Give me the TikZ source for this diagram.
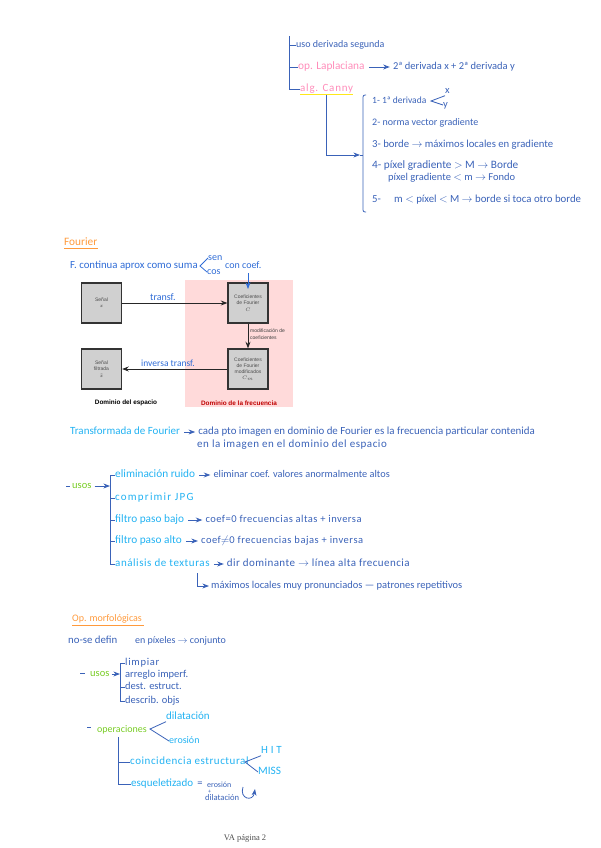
\documentclass[tikz,border=0pt]{standalone}
\usepackage{fontspec}
\setmainfont{Carlito}
\newfontfamily\boxfont{Liberation Sans}
\newfontfamily\pagefont{Liberation Serif}
\usepackage{tikz}
\usetikzlibrary{arrows.meta,positioning,calc}
\usepackage{xcolor}
\definecolor{inkblue}{HTML}{3A62B8}
\definecolor{inkroyal}{HTML}{2F6CD6}
\definecolor{inkcyan}{HTML}{22B2F2}
\definecolor{inkpink}{HTML}{FF8DBA}
\definecolor{inkorange}{HTML}{FF9A3C}
\definecolor{inkgreen}{HTML}{78CC24}
\definecolor{inkyellow}{HTML}{FFE81A}
\definecolor{panelred}{HTML}{FFDADA}
\definecolor{boxgray}{HTML}{D0D0D0}

\begin{document}
\begin{tikzpicture}[x=1pt,y=-1pt,>=Stealth,font=\fontsize{10.5}{10.5}\selectfont,
  fs/.style={font=\fontsize{#1}{#1}\selectfont},
  fsp/.style 2 args={font=\fontsize{#1}{#1}\selectfont\addfontfeature{LetterSpace=#2}},
  txt/.style={inner sep=0pt,anchor=west,text=inkblue,text height=7pt,text depth=2pt},
  roy/.style={txt,text=inkroyal},
  cyn/.style={txt,text=inkcyan,fs=11.3},
  pnk/.style={txt,text=inkpink,fs=11.3},
  grn/.style={txt,text=inkgreen},
  org/.style={txt,text=inkorange},
  ink/.style={draw=inkblue,line width=0.8pt},
  gap/.style={ink,->,shorten <=4pt,shorten >=3pt},
  sig/.style={draw=black!80,line width=1.2pt,fill=boxgray,minimum width=40pt,minimum height=40pt,
    align=center,inner sep=1pt,text=black!70,font=\boxfont\fontsize{5}{6.2}\selectfont},
  dom/.style={inner sep=0pt,font=\boxfont\bfseries\fontsize{6.4}{7}\selectfont},
  flow/.style={->,line width=0.8pt,black!85}]

  \useasboundingbox (0,0) rectangle (600,848);

  % edge detection, top right
  \node[txt,fs=10] (seg) at (296,45) {uso derivada segunda};
  \node[pnk] (lap) at (298,67) {op. Laplaciana};
  \node[txt,right=28pt of lap] (lapd) {2ª derivada x + 2ª derivada y};
  \node[pnk,fsp={11}{7}] (can) at (300,89) {alg. Canny};
  \draw[gap] (lap) -- (lapd);
  \coordinate (bart) at (289,36);
  \draw[ink] (bart) |- (can.west);
  \draw[ink] (seg.west -| bart) -- (seg.west);
  \draw[ink] (lap.west -| bart) -- (lap.west);
  \draw[inkyellow,line width=1.6pt] (can.south west)++(0,1) -- ++(53,0) coordinate (canr);
  \node[txt,fs=9.5] (c1) at (372,101) {1- 1ª derivada};
  \node[txt,fs=10] (c2) at (372,123) {2- norma vector gradiente};
  \node[txt,fs=10.7] (c3) at (372,145) {3- borde $\to$ máximos locales en gradiente};
  \node[txt,fs=11.3] (c4) at (372,166) {4- píxel gradiente $>$ M $\to$ Borde};
  \node[txt] (c4b) at (388,178) {píxel gradiente $<$ m $\to$ Fondo};
  \node[txt,fs=10.8] (c5) at (372,200) {5- \quad m $<$ píxel $<$ M $\to$ borde si toca otro borde};
  \node[txt] (cx) at (445,91) {x};
  \node[txt] (cy) at (443,105) {y};
  \coordinate (cfork) at (431,101);
  \draw[ink] (cx.south west) -- (cfork) -- (cy.west);
  \coordinate (brt) at (366,95);
  \coordinate (brb) at (366,212);
  \coordinate (brm) at (360,155);
  \draw[ink,rounded corners=2pt] (brt) -- (363,95) -- (363,212) -- (brb);
  \draw[ink] (brm) -- (363,155);
  \coordinate (cand) at (326,95);
  \draw[->,ink] (cand) |- (brm);

  % Fourier
  \node[org,fs=11.3] (fou) at (64,243) {Fourier};
  \draw[inkorange,line width=0.8pt] (fou.south west)++(0,1) -- ++(34,0);
  \node[roy,fs=10.8] (fc) at (70,266) {F. continua aprox como suma};
  \node[roy,fs=10] (sen) at (208,258) {sen};
  \node[roy,fs=10] (cos) at (207,272) {cos};
  \node[roy,fs=10] (coef) at (225,266) {con coef.};
  \coordinate (ffork) at (200,266);
  \draw[ink,inkroyal] (sen.west) -- (ffork) -- (cos.west);

  \fill[panelred] (185,280) rectangle (293,407);
  \node[sig] (x1) at (101.5,303) {Señal\\$x$};
  \node[sig] (c) at (248,303) {Coeficientes\\de Fourier\\$C$};
  \node[sig] (cm) at (248,369) {Coeficientes\\de Fourier\\modificados\\$C_m$};
  \node[sig] (xf) at (101.5,369) {Señal\\filtrada\\$\tilde{x}$};
  \draw[flow] (x1) -- (c);
  \draw[flow] (c) -- (cm);
  \draw[flow] (cm) -- (xf);
  \node[inner sep=0pt,anchor=west,align=left,text=black!75,font=\boxfont\fontsize{5}{7}\selectfont] (mod) at (250,334) {modificación de\\coeficientes};
  \node[dom] (dse) at (126,403) {Dominio del espacio};
  \node[dom,text=red!75!black] (dfr) at (239,403) {Dominio de la frecuencia};
  \node[roy,fs=10] (tr) at (150,298) {transf.};
  \node[roy,fs=9.5] (itr) at (141,364) {inversa transf.};
  \coordinate (cdn) at (248,273);
  \coordinate (cup) at (248,289);
  \draw[->,ink,inkroyal] (cdn) -- (cup);

  % transformada
  \node[cyn,fs=11] (tf) at (70,432) {Transformada de Fourier};
  \node[txt,fs=10.9,right=18pt of tf] (tfa) {cada pto imagen en dominio de Fourier es la frecuencia particular contenida};
  \node[txt,fsp={11}{5}] (tfb) at (197,445) {en la imagen en el dominio del espacio};
  \draw[gap] (tf) -- (tfa);

  % usos
  \node[grn] (us) at (72,486) {usos};
  \coordinate (usd) at (66,486);
  \draw[ink,shorten >=2pt] (usd) -- (us);
  \coordinate (usb) at (110,486);
  \draw[->,ink,shorten <=3pt] (us) -- (usb);
  \node[cyn] (u1) at (115,475) {eliminación ruido};
  \node[txt,fs=10.3,right=18pt of u1] (u1a) {eliminar coef. valores anormalmente altos};
  \node[cyn,fsp={11}{11}] (u2) at (115,498) {comprimir JPG};
  \node[cyn] (u3) at (115,520) {filtro paso bajo};
  \node[txt,fsp={10.5}{4.5},right=21pt of u3] (u3a) {coef=0 frecuencias altas + inversa};
  \node[cyn] (u4) at (115,541) {filtro paso alto};
  \node[txt,fsp={10.5}{5},right=19pt of u4] (u4a) {coef$\neq$0 frecuencias bajas + inversa};
  \node[cyn,fsp={11}{5}] (u5) at (115,564) {análisis de texturas};
  \node[txt,fsp={11}{4},right=17pt of u5] (u5a) {dir dominante $\to$ línea alta frecuencia};
  \node[txt] (u6) at (211,586) {máximos locales muy pronunciados --- patrones repetitivos};
  \foreach \a/\b in {u1/u1a,u3/u3a,u4/u4a,u5/u5a}
    \draw[gap] (\a) -- (\b);
  \draw[ink] (u1.west) -| (u5.west -| usb) -- (u5.west);
  \foreach \a in {u2,u3,u4}
    \draw[ink] (\a.west -| usb) -- (\a.west);
  \coordinate (u5d) at (197,573);
  \draw[->,ink,shorten >=2pt] (u5d) |- (u6);

  % morfologia
  \node[org,fs=10] (mor) at (72,619) {Op. morfológicas};
  \draw[inkorange,line width=0.8pt] (mor.south west)++(0,1.5) -- ++(72,0);
  \node[txt,fs=10.8] (nos) at (68,641) {no-se defin};
  \node[txt,fs=10] (pix) at (135,641) {en píxeles $\to$ conjunto};
  \node[grn] (mu) at (90,674) {usos};
  \coordinate (mud) at (80,673);
  \draw[ink] (mud) -- ++(5,0);
  \coordinate (mub) at (120,674);
  \draw[->,ink,shorten <=2pt] (mu) -- (mub);
  \node[txt,fsp={10.5}{7}] (m1) at (125,663) {limpiar};
  \node[txt] (m2) at (125,675) {arreglo imperf.};
  \node[txt] (m3) at (125,687) {dest. estruct.};
  \node[txt] (m4) at (125,701) {describ. objs};
  \draw[ink] (m1.west) -| (m4.west -| mub) -- (m4.west);
  \draw[ink] (m3.west -| mub) -- (m3.west);

  \node[grn,fs=10] (op) at (97,730) {operaciones};
  \coordinate (opd) at (87,727);
  \draw[ink] (opd) -- ++(4,0);
  \node[cyn,fs=11] (dil) at (166,717) {dilatación};
  \node[cyn,fs=10] (ero) at (169,741) {erosión};
  \coordinate (ofork) at (150,729);
  \draw[ink] (dil.south west) -- (ofork) -- (ero.west);
  \node[cyn,fsp={11}{5}] (coi) at (130,762) {coincidencia estructural};
  \node[cyn,fs=11] (esq) at (131,784) {esqueletizado};
  \coordinate (opb) at (118,737);
  \draw[ink] (opb) |- (esq.west);
  \draw[ink] (coi.west -| opb) -- (coi.west);
  \node[txt,right=4pt of esq] (eq) {=};
  \node[txt,fs=8,text height=5pt,text depth=0pt,right=4pt of eq,yshift=-1pt] (er2) {erosión};
  \node[txt,fs=6,text height=3pt,text depth=0pt] (pl) at (208,791.5) {+};
  \node[txt,fs=8.6,text height=5pt,text depth=0pt] (di2) at (205,798) {dilatación};
  \node[cyn,fsp={11}{25}] (hit) at (261,751) {HIT};
  \node[cyn] (mis) at (258,772) {MISS};
  \coordinate (hfork) at (245,762);
  \draw[ink] (hit.south west) -- (hfork) -- (mis.west);
  \coordinate (loop) at (243,787);
  \draw[->,ink] (loop) .. controls (239,799) and (253,802) .. (255,789);

  \node[inner sep=0pt,text=black!70,font=\pagefont\fontsize{8.5}{9}\selectfont] (pag) at (245,838) {VA página 2};
\end{tikzpicture}
\end{document}
